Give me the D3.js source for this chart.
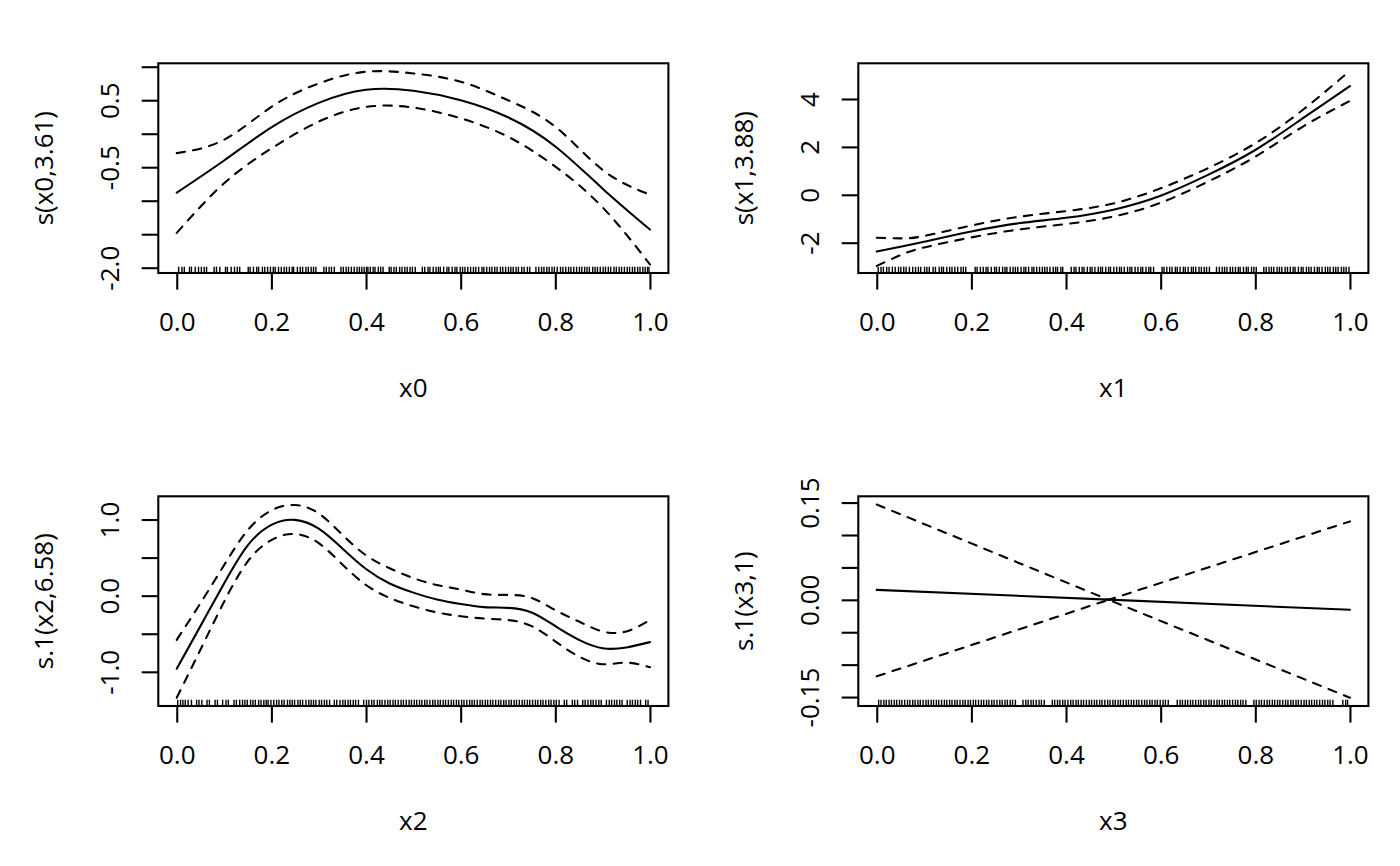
<!DOCTYPE html>
<html>
<head>
<meta charset="utf-8">
<script src="https://cdn.jsdelivr.net/npm/d3@7"></script>
<style>
  body { margin: 0; background: #fff; }
  svg { display: block; }
  text { font-family: "Open Sans", sans-serif; font-size: 26px; fill: #000; }
</style>
</head>
<body>
<svg id="chart" width="1400" height="866"></svg>
<script>
// ---- data ----
const xTicks = [0, 0.2, 0.4, 0.6, 0.8, 1.0];
const xTickText = ["0.0", "0.2", "0.4", "0.6", "0.8", "1.0"];

// s(x0,3.61)
const grid0 = [0, 0.1, 0.2, 0.3, 0.4, 0.5, 0.6, 0.7, 0.8, 0.9, 1.0];
const fit0 = [-0.88, -0.40, 0.095, 0.46, 0.655, 0.64, 0.50, 0.245, -0.19, -0.82, -1.43];
const upper0 = [-0.29, -0.09, 0.40, 0.75, 0.925, 0.90, 0.776, 0.50, 0.105, -0.54, -0.91];
const lower0 = [-1.48, -0.74, -0.22, 0.18, 0.40, 0.39, 0.23, -0.045, -0.49, -1.10, -1.95];
const yTicks0 = [-2, -1.5, -1, -0.5, 0, 0.5, 1];
const yTickText0 = ["-2.0", "", "", "-0.5", "", "0.5", ""];
const rug0 = [0.004,0.011,0.016,0.027,0.031,0.039,0.046,0.052,0.058,0.063,0.079,0.084,0.091,0.103,0.107,0.115,0.122,0.128,0.133,0.151,0.155,0.162,0.169,0.173,0.181,0.186,0.192,0.198,0.204,0.208,0.215,0.221,0.227,0.232,0.238,0.244,0.247,0.255,0.261,0.266,0.273,0.278,0.284,0.289,0.294,0.311,0.316,0.322,0.327,0.333,0.347,0.352,0.358,0.363,0.369,0.375,0.381,0.386,0.391,0.396,0.401,0.404,0.409,0.415,0.419,0.426,0.431,0.436,0.449,0.453,0.459,0.464,0.471,0.476,0.482,0.487,0.493,0.498,0.504,0.519,0.524,0.531,0.535,0.542,0.548,0.553,0.557,0.564,0.571,0.575,0.582,0.588,0.592,0.599,0.604,0.609,0.615,0.621,0.627,0.632,0.638,0.645,0.649,0.655,0.661,0.666,0.672,0.677,0.684,0.689,0.695,0.701,0.706,0.711,0.717,0.722,0.729,0.734,0.741,0.746,0.759,0.765,0.771,0.776,0.782,0.787,0.793,0.798,0.804,0.811,0.816,0.822,0.828,0.833,0.839,0.845,0.851,0.856,0.862,0.867,0.872,0.879,0.884,0.889,0.895,0.901,0.906,0.912,0.917,0.924,0.929,0.935,0.94,0.946,0.952,0.957,0.963,0.968,0.974,0.979,0.985,0.99,0.995,0.998];

// s(x1,3.88)
const grid1 = [0, 0.05, 0.1, 0.2, 0.3, 0.4, 0.5, 0.6, 0.7, 0.8, 0.9, 1.0];
const fit1 = [-2.37, -2.17, -1.96, -1.53, -1.19, -0.96, -0.62, -0.04, 0.83, 1.87, 3.19, 4.54];
const upper1 = [-1.79, -1.82, -1.72, -1.28, -0.92, -0.68, -0.36, 0.27, 1.11, 2.15, 3.54, 5.18];
const lower1 = [-2.97, -2.52, -2.20, -1.78, -1.45, -1.22, -0.91, -0.33, 0.55, 1.59, 2.84, 3.92];
const yTicks1 = [-2, 0, 2, 4];
const yTickText1 = ["-2", "0", "2", "4"];
const rug1 = [0.003,0.009,0.014,0.021,0.026,0.033,0.039,0.046,0.051,0.057,0.062,0.069,0.076,0.082,0.088,0.093,0.101,0.106,0.111,0.119,0.124,0.132,0.137,0.141,0.148,0.154,0.159,0.165,0.171,0.178,0.183,0.188,0.208,0.212,0.219,0.225,0.231,0.235,0.242,0.249,0.253,0.259,0.266,0.271,0.275,0.282,0.288,0.293,0.298,0.305,0.311,0.315,0.321,0.328,0.332,0.338,0.344,0.35,0.355,0.36,0.366,0.373,0.378,0.382,0.389,0.393,0.411,0.417,0.421,0.428,0.434,0.438,0.445,0.451,0.455,0.461,0.468,0.473,0.477,0.484,0.49,0.494,0.501,0.507,0.513,0.517,0.523,0.53,0.535,0.539,0.546,0.552,0.558,0.562,0.569,0.575,0.579,0.585,0.603,0.607,0.613,0.619,0.624,0.631,0.635,0.641,0.648,0.652,0.658,0.665,0.669,0.674,0.681,0.686,0.692,0.697,0.703,0.718,0.724,0.73,0.735,0.74,0.747,0.752,0.758,0.764,0.768,0.775,0.781,0.785,0.792,0.797,0.802,0.818,0.823,0.829,0.834,0.839,0.846,0.851,0.856,0.863,0.868,0.874,0.88,0.884,0.891,0.897,0.901,0.908,0.913,0.918,0.925,0.931,0.935,0.941,0.948,0.953,0.958,0.965,0.97,0.975,0.982,0.987,0.992,0.998];

// s.1(x2,6.58)
const grid2 = [0, 0.05, 0.1, 0.15, 0.2, 0.25, 0.3, 0.35, 0.4, 0.45, 0.5, 0.55, 0.6, 0.65, 0.7, 0.75, 0.8, 0.85, 0.9, 0.95, 1.0];
const fit2 = [-0.96, -0.40, 0.16, 0.66, 0.93, 0.995, 0.88, 0.62, 0.35, 0.16, 0.04, -0.05, -0.11, -0.15, -0.16, -0.22, -0.40, -0.58, -0.69, -0.68, -0.61];
const upper2 = [-0.58, -0.10, 0.40, 0.86, 1.12, 1.19, 1.08, 0.80, 0.53, 0.36, 0.23, 0.14, 0.08, 0.02, 0.01, -0.03, -0.19, -0.34, -0.47, -0.47, -0.32];
const lower2 = [-1.34, -0.71, -0.08, 0.45, 0.73, 0.81, 0.69, 0.41, 0.14, -0.03, -0.14, -0.22, -0.27, -0.30, -0.32, -0.40, -0.60, -0.80, -0.90, -0.88, -0.94];
const yTicks2 = [-1, -0.5, 0, 0.5, 1];
const yTickText2 = ["-1.0", "", "0.0", "", "1.0"];
const rug2 = [0.002,0.008,0.013,0.018,0.024,0.031,0.042,0.047,0.053,0.064,0.069,0.081,0.086,0.097,0.104,0.109,0.121,0.126,0.133,0.139,0.144,0.149,0.156,0.161,0.166,0.173,0.178,0.184,0.189,0.193,0.199,0.205,0.211,0.216,0.222,0.227,0.234,0.239,0.244,0.249,0.256,0.261,0.266,0.273,0.279,0.284,0.289,0.294,0.301,0.306,0.312,0.317,0.323,0.333,0.338,0.345,0.351,0.356,0.362,0.367,0.373,0.378,0.384,0.395,0.401,0.406,0.412,0.417,0.424,0.429,0.434,0.44,0.446,0.451,0.457,0.462,0.468,0.474,0.479,0.485,0.491,0.496,0.502,0.507,0.513,0.518,0.524,0.529,0.535,0.541,0.546,0.552,0.557,0.563,0.568,0.574,0.58,0.585,0.591,0.596,0.602,0.607,0.613,0.619,0.624,0.629,0.635,0.641,0.646,0.652,0.657,0.663,0.668,0.674,0.68,0.685,0.691,0.696,0.702,0.707,0.713,0.718,0.724,0.73,0.735,0.741,0.746,0.752,0.758,0.763,0.769,0.774,0.78,0.786,0.791,0.797,0.802,0.808,0.819,0.824,0.836,0.841,0.847,0.858,0.863,0.869,0.875,0.88,0.886,0.892,0.897,0.908,0.914,0.919,0.925,0.93,0.936,0.941,0.952,0.958,0.963,0.969,0.974,0.98,0.991,0.996];

// s.1(x3,1)
const grid3 = [0, 0.49, 1.0];
const fit3 = [0.0154, 0.0003, -0.0154];
const upper3 = [0.147, 0.0, 0.121];
const lower3 = [-0.118, 0.0, -0.151];
const yTicks3 = [-0.15, -0.1, -0.05, 0, 0.05, 0.1, 0.15];
const yTickText3 = ["-0.15", "", "", "0.00", "", "", "0.15"];
const rug3 = [0.004,0.009,0.015,0.02,0.026,0.031,0.037,0.042,0.048,0.053,0.059,0.065,0.07,0.076,0.081,0.087,0.092,0.098,0.104,0.109,0.115,0.12,0.126,0.131,0.137,0.143,0.148,0.154,0.159,0.165,0.17,0.176,0.182,0.187,0.193,0.198,0.204,0.209,0.215,0.221,0.226,0.232,0.237,0.243,0.248,0.254,0.26,0.265,0.271,0.276,0.282,0.287,0.293,0.309,0.315,0.32,0.326,0.331,0.337,0.343,0.348,0.354,0.371,0.376,0.382,0.387,0.393,0.398,0.404,0.41,0.415,0.421,0.426,0.432,0.437,0.443,0.449,0.454,0.46,0.465,0.471,0.476,0.482,0.488,0.493,0.499,0.504,0.51,0.515,0.521,0.527,0.532,0.538,0.543,0.549,0.554,0.56,0.566,0.571,0.577,0.582,0.588,0.593,0.599,0.605,0.61,0.616,0.635,0.641,0.646,0.652,0.657,0.663,0.668,0.674,0.68,0.685,0.691,0.696,0.702,0.707,0.713,0.719,0.724,0.73,0.735,0.741,0.746,0.752,0.758,0.763,0.769,0.774,0.78,0.797,0.802,0.808,0.813,0.819,0.825,0.83,0.836,0.841,0.847,0.852,0.858,0.864,0.869,0.875,0.88,0.886,0.891,0.897,0.903,0.908,0.914,0.919,0.925,0.93,0.936,0.942,0.947,0.953,0.958,0.964,0.985,0.991,0.995];

const xLabels = ["x0", "x1", "x2", "x3"];
const yAxisLabels = ["s(x0,3.61)", "s(x1,3.88)", "s.1(x2,6.58)", "s.1(x3,1)"];
const yDomains = [[-2.079, 1.051], [-3.265, 5.49], [-1.449, 1.305], [-0.1638, 0.1597]];

const panels = [
  { grid: grid0, fit: fit0, upper: upper0, lower: lower0, rug: rug0, yTicks: yTicks0, yText: yTickText0, curve: d3.curveNatural },
  { grid: grid1, fit: fit1, upper: upper1, lower: lower1, rug: rug1, yTicks: yTicks1, yText: yTickText1, curve: d3.curveNatural },
  { grid: grid2, fit: fit2, upper: upper2, lower: lower2, rug: rug2, yTicks: yTicks2, yText: yTickText2, curve: d3.curveNatural },
  { grid: grid3, fit: fit3, upper: upper3, lower: lower3, rug: rug3, yTicks: yTicks3, yText: yTickText3, curve: d3.curveLinear }
];

// ---- layout (R mfrow = c(2,2) look) ----
const figW = 700, figH = 433;
const box = { left: 158.3, top: 63.3, right: 668.4, bottom: 273 };
const tickLen = 16.6;
const lwd = 2.08;

const svg = d3.select("#chart");

panels.forEach((p, i) => {
  const g = svg.append("g")
    .attr("transform", `translate(${(i % 2) * figW},${Math.floor(i / 2) * figH})`);

  const x = d3.scaleLinear().domain([-0.039, 1.039]).range([box.left, box.right]);
  const y = d3.scaleLinear().domain(yDomains[i]).range([box.bottom, box.top]);

  const line = d3.line()
    .x((d, k) => x(p.grid[k]))
    .y(d => y(d))
    .curve(p.curve);

  // rug
  g.append("g").selectAll("line")
    .data(p.rug)
    .join("line")
    .attr("x1", d => x(d)).attr("x2", d => x(d))
    .attr("y1", box.bottom).attr("y2", box.bottom - 6.3)
    .attr("stroke", "#000")
    .attr("stroke-width", 1.4);

  // fitted smooth and +-2se bands
  g.append("path")
    .attr("d", line(p.fit))
    .attr("fill", "none").attr("stroke", "#000")
    .attr("stroke-width", lwd).attr("stroke-linecap", "round").attr("stroke-linejoin", "round");

  [p.upper, p.lower].forEach(band => {
    g.append("path")
      .attr("d", line(band))
      .attr("fill", "none").attr("stroke", "#000")
      .attr("stroke-width", lwd).attr("stroke-linecap", "round")
      .attr("stroke-dasharray", "8.3,8.3");
  });

  // axes
  const xAxis = g.append("g")
    .attr("transform", `translate(0,${box.bottom})`)
    .call(d3.axisBottom(x).tickValues(xTicks).tickSize(tickLen).tickSizeOuter(0)
      .tickFormat((d, k) => xTickText[k]));
  xAxis.select(".domain").remove();
  xAxis.selectAll(".tick line").attr("stroke-width", lwd);
  xAxis.selectAll("text")
    .attr("y", 58).attr("dy", null)
    .attr("font-size", null).attr("font-family", null);

  const yAxis = g.append("g")
    .attr("transform", `translate(${box.left},0)`)
    .call(d3.axisLeft(y).tickValues(p.yTicks).tickSize(tickLen).tickSizeOuter(0)
      .tickFormat((d, k) => p.yText[k]));
  yAxis.select(".domain").remove();
  yAxis.selectAll(".tick line").attr("stroke-width", lwd);
  yAxis.selectAll("text")
    .attr("transform", "rotate(-90)")
    .attr("x", 0).attr("y", -39).attr("dy", null)
    .attr("text-anchor", "middle")
    .attr("font-size", null).attr("font-family", null);

  // box
  g.append("rect")
    .attr("x", box.left).attr("y", box.top)
    .attr("width", box.right - box.left).attr("height", box.bottom - box.top)
    .attr("fill", "none").attr("stroke", "#000").attr("stroke-width", lwd);

  // axis titles
  g.append("text")
    .attr("x", (box.left + box.right) / 2)
    .attr("y", box.bottom + 58 + 66.4)
    .attr("text-anchor", "middle")
    .text(xLabels[i]);

  g.append("text")
    .attr("transform", `translate(${box.left - 39 - 66.4},${(box.top + box.bottom) / 2}) rotate(-90)`)
    .attr("text-anchor", "middle")
    .text(yAxisLabels[i]);
});
</script>
</body>
</html>
